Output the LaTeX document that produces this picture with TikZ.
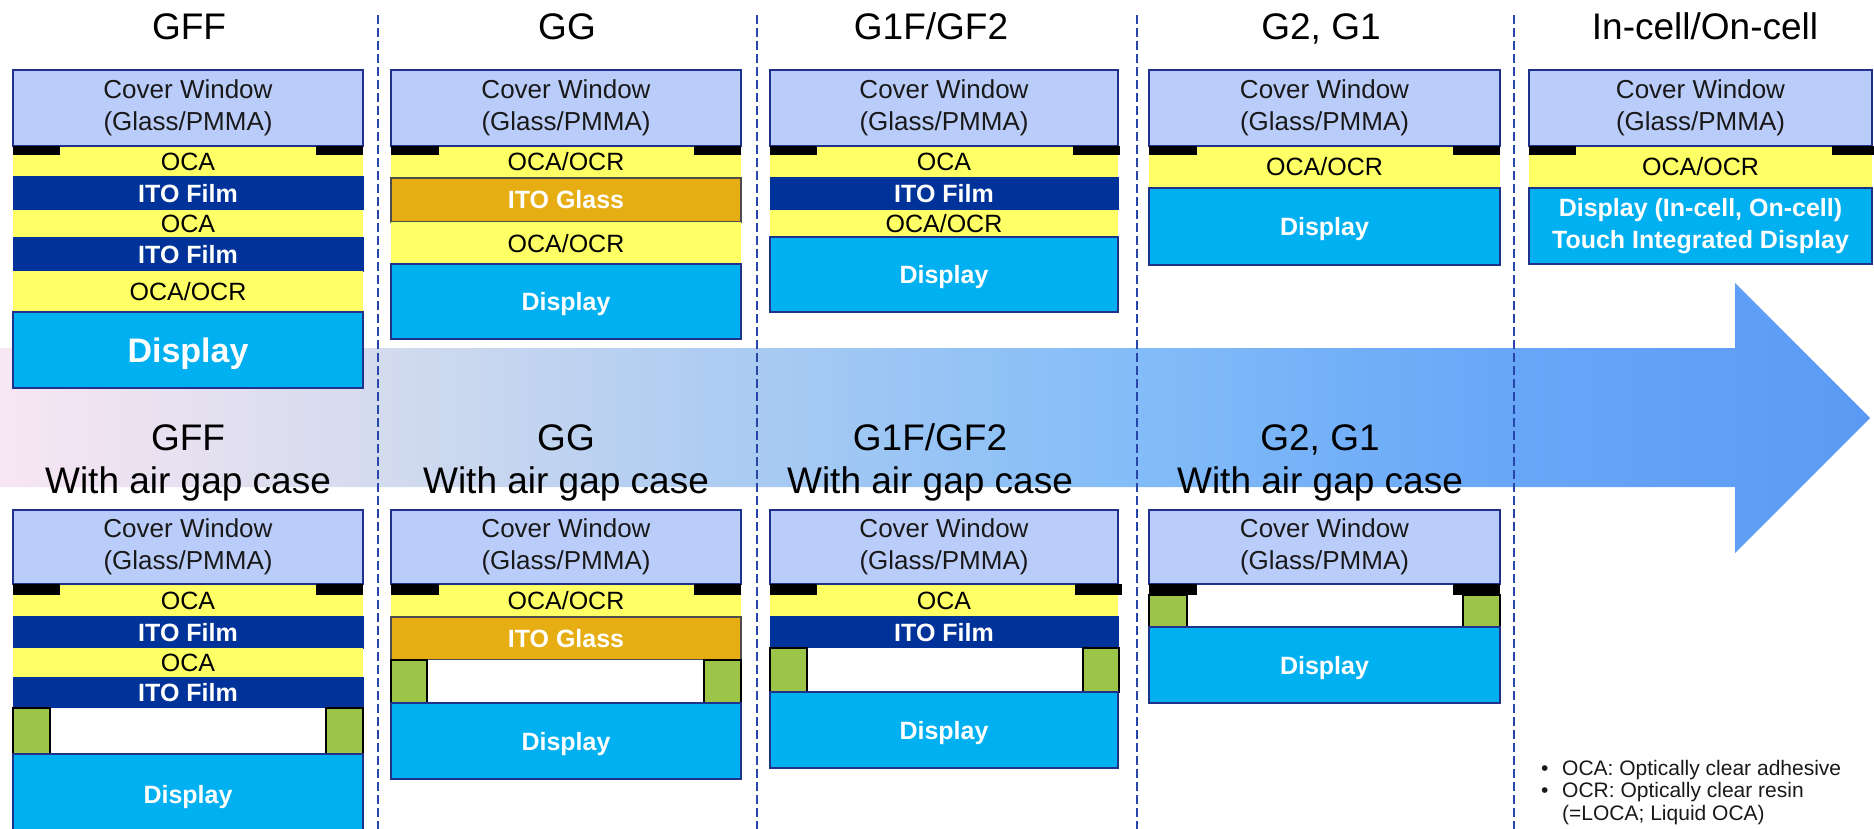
\documentclass[tikz,border=0pt]{standalone}
\usepackage{fontspec}
\setmainfont{Liberation Sans}
\definecolor{coverc}{RGB}{186,205,250}
\definecolor{ocac}{RGB}{255,255,102}
\definecolor{itofc}{RGB}{0,51,153}
\definecolor{itogc}{RGB}{230,174,18}
\definecolor{dispc}{RGB}{0,176,240}
\definecolor{spc}{RGB}{155,196,72}
\definecolor{edgec}{RGB}{30,50,140}
\definecolor{sepc}{RGB}{40,70,170}
\definecolor{txtc}{RGB}{25,25,25}
\definecolor{ar0}{RGB}{248,230,243}
\definecolor{ar1}{RGB}{212,219,238}
\definecolor{ar2}{RGB}{170,203,242}
\definecolor{ar3}{RGB}{132,189,248}
\definecolor{ar4}{RGB}{105,167,248}
\definecolor{ar5}{RGB}{90,154,244}
\pgfdeclarehorizontalshading{arrowshade}{100bp}{color(0bp)=(ar0); color(25bp)=(ar0); color(35bp)=(ar1); color(45bp)=(ar2); color(55bp)=(ar3); color(65bp)=(ar4); color(75bp)=(ar5); color(100bp)=(ar5)}
\newcommand\myfs[2]{\fontsize{#1}{#2}\selectfont}
% #1 name, #2 style, #3 x1, #4 y1, #5 x2, #6 y2, #7 text
\newcommand\lay[7]{%
  \pgfmathsetmacro\mylw{#5-#3}\pgfmathsetmacro\mylh{#6-#4}%
  \node[#2, anchor=north west, minimum width=\mylw pt, minimum height=\mylh pt, inner sep=0pt, outer sep=0pt] (#1) at (#3,#4) {#7};}
\tikzset{
  cover/.style={fill=coverc, draw=edgec, line width=1.3pt, text=txtc, align=center, font=\myfs{26}{32}},
  oca/.style={fill=ocac, text=black, font=\myfs{25}{30}, text height=18pt, text depth=0pt},
  itof/.style={fill=itofc, draw=itofc, line width=1pt, text=white, font=\myfs{25}{30}\bfseries, text height=18pt, text depth=0pt},
  itog/.style={fill=itogc, draw=black!70, line width=1.3pt, text=white, font=\myfs{25}{30}\bfseries, text height=18pt, text depth=0pt},
  disp/.style={fill=dispc, draw=edgec, line width=1.3pt, text=white, font=\myfs{25}{30}\bfseries, text height=18pt, text depth=0pt},
  dispbig/.style={disp, font=\myfs{34}{40}\bfseries, text height=24.5pt, text depth=0pt},
  disptwo/.style={fill=dispc, draw=edgec, line width=1.3pt, text=white, align=center, font=\myfs{25}{32}\bfseries},
  bar/.style={fill=black},
  spacer/.style={fill=spc, draw=black, line width=1.3pt},
  gap/.style={fill=white},
  ttl/.style={anchor=base, inner sep=0pt, text=black, font=\myfs{37}{43}},
  sep/.style={draw=sepc, line width=1.5pt, dash pattern=on 9pt off 4pt},
  legend/.style={anchor=north west, inner sep=0pt, align=left, text=txtc, font=\myfs{21}{22.5}}
}
\begin{document}
\begin{tikzpicture}[x=1pt, y=-1pt]
\useasboundingbox (0,0) rectangle (1874,829);
\clip (0,0) rectangle (1874,829);
% big arrow
\path[shading=arrowshade] (0,348) -- (1735,348) -- (1735,283) -- (1870,418) -- (1735,553) -- (1735,487) -- (0,487) -- cycle;
% separators
\coordinate (s1t) at (378,15); \coordinate (s1b) at (378,829);
\coordinate (s2t) at (757,15); \coordinate (s2b) at (757,829);
\coordinate (s3t) at (1137,15); \coordinate (s3b) at (1137,829);
\coordinate (s4t) at (1514,15); \coordinate (s4b) at (1514,829);
\draw[sep] (s1t) -- (s1b);
\draw[sep] (s2t) -- (s2b);
\draw[sep] (s3t) -- (s3b);
\draw[sep] (s4t) -- (s4b);
% titles top
\node[ttl] (t1) at (189,40) {GFF};
\node[ttl] (t2) at (567,40) {GG};
\node[ttl] (t3) at (931,40) {G1F/GF2};
\node[ttl] (t4) at (1321,40) {G2, G1};
\node[ttl] (t5) at (1705,40) {In-cell/On-cell};
% titles bottom
\node[ttl] (b1a) at (188,450) {GFF};
\node[ttl] (b1b) at (188,493) {With air gap case};
\node[ttl] (b2a) at (566,450) {GG};
\node[ttl] (b2b) at (566,493) {With air gap case};
\node[ttl] (b3a) at (930,450) {G1F/GF2};
\node[ttl] (b3b) at (930,493) {With air gap case};
\node[ttl] (b4a) at (1320,450) {G2, G1};
\node[ttl] (b4b) at (1320,493) {With air gap case};
% ---------- top row ----------
% GFF
\lay{a1}{oca}{13}{146}{363}{177}{OCA}
\lay{a2}{itof}{13}{177}{363}{210}{ITO Film}
\lay{a3}{oca}{13}{210}{363}{238}{OCA}
\lay{a4}{itof}{13}{238}{363}{271}{ITO Film}
\lay{a5}{oca}{13}{271}{363}{312}{OCA/OCR}
\lay{a6}{dispbig}{13}{312}{363}{388}{Display}
\lay{a0}{cover}{13}{70}{363}{146}{Cover Window\\(Glass/PMMA)}
\lay{ab1}{bar}{13}{146}{60}{155}{}
\lay{ab2}{bar}{316}{146}{363}{155}{}
% GG
\lay{g1}{oca}{391}{146}{741}{178}{OCA/OCR}
\lay{g2}{itog}{391}{178}{741}{222}{ITO Glass}
\lay{g3}{oca}{391}{222}{741}{264}{OCA/OCR}
\lay{g4}{disp}{391}{264}{741}{339}{Display}
\lay{g0}{cover}{391}{70}{741}{146}{Cover Window\\(Glass/PMMA)}
\lay{gb1}{bar}{391}{146}{439}{155}{}
\lay{gb2}{bar}{694}{146}{741}{155}{}
% G1F/GF2
\lay{f1}{oca}{770}{146}{1118}{178}{OCA}
\lay{f2}{itof}{770}{178}{1118}{210}{ITO Film}
\lay{f3}{oca}{770}{210}{1118}{237}{OCA/OCR}
\lay{f4}{disp}{770}{237}{1118}{312}{Display}
\lay{f0}{cover}{770}{70}{1118}{146}{Cover Window\\(Glass/PMMA)}
\lay{fb1}{bar}{770}{146}{817}{155}{}
\lay{fb2}{bar}{1073}{146}{1120}{155}{}
% G2, G1
\lay{h1}{oca}{1149}{146}{1500}{188}{OCA/OCR}
\lay{h2}{disp}{1149}{188}{1500}{265}{Display}
\lay{h0}{cover}{1149}{70}{1500}{146}{Cover Window\\(Glass/PMMA)}
\lay{hb1}{bar}{1149}{146}{1197}{155}{}
\lay{hb2}{bar}{1453}{146}{1500}{155}{}
% In-cell/On-cell
\lay{i1}{oca}{1529}{146}{1872}{188}{OCA/OCR}
\lay{i2}{disptwo}{1529}{188}{1872}{264}{Display (In-cell, On-cell)\\Touch Integrated Display}
\lay{i0}{cover}{1529}{70}{1872}{146}{Cover Window\\(Glass/PMMA)}
\lay{ib1}{bar}{1529}{146}{1576}{155}{}
\lay{ib2}{bar}{1832}{146}{1874}{155}{}
% ---------- bottom row ----------
% GFF air gap
\lay{p1}{oca}{13}{584}{363}{616}{OCA}
\lay{p2}{itof}{13}{616}{363}{648}{ITO Film}
\lay{p3}{oca}{13}{648}{363}{677}{OCA}
\lay{p4}{itof}{13}{677}{363}{708}{ITO Film}
\lay{p5}{gap}{13}{708}{363}{754}{}
\lay{ps1}{spacer}{13}{708}{50}{754}{}
\lay{ps2}{spacer}{326}{708}{363}{754}{}
\lay{p6}{disp}{13}{754}{363}{834}{Display}
\lay{p0}{cover}{13}{510}{363}{584}{Cover Window\\(Glass/PMMA)}
\lay{pb1}{bar}{13}{584}{60}{595}{}
\lay{pb2}{bar}{316}{584}{363}{595}{}
% GG air gap
\lay{q1}{oca}{391}{584}{741}{617}{OCA/OCR}
\lay{q2}{itog}{391}{617}{741}{660}{ITO Glass}
\lay{q3}{gap}{391}{660}{741}{703}{}
\lay{qs1}{spacer}{391}{660}{427}{703}{}
\lay{qs2}{spacer}{704}{660}{741}{703}{}
\lay{q4}{disp}{391}{703}{741}{779}{Display}
\lay{q0}{cover}{391}{510}{741}{584}{Cover Window\\(Glass/PMMA)}
\lay{qb1}{bar}{391}{584}{439}{595}{}
\lay{qb2}{bar}{694}{584}{741}{595}{}
% G1F/GF2 air gap
\lay{r1}{oca}{770}{584}{1118}{616}{OCA}
\lay{r2}{itof}{770}{616}{1118}{648}{ITO Film}
\lay{r3}{gap}{770}{648}{1118}{692}{}
\lay{rs1}{spacer}{770}{648}{807}{692}{}
\lay{rs2}{spacer}{1083}{648}{1119}{692}{}
\lay{r4}{disp}{770}{692}{1118}{768}{Display}
\lay{r0}{cover}{770}{510}{1118}{584}{Cover Window\\(Glass/PMMA)}
\lay{rb1}{bar}{770}{584}{817}{595}{}
\lay{rb2}{bar}{1075}{584}{1122}{595}{}
% G2, G1 air gap
\lay{u1}{gap}{1149}{584}{1500}{627}{}
\lay{us1}{spacer}{1149}{595}{1187}{627}{}
\lay{us2}{spacer}{1463}{595}{1500}{627}{}
\lay{u2}{disp}{1149}{627}{1500}{703}{Display}
\lay{u0}{cover}{1149}{510}{1500}{584}{Cover Window\\(Glass/PMMA)}
\lay{ub1}{bar}{1149}{584}{1197}{595}{}
\lay{ub2}{bar}{1453}{584}{1500}{595}{}
% legend
\node[legend] (leg) at (1541,760) {\makebox[21pt][l]{\textbullet}OCA: Optically clear adhesive\\
\makebox[21pt][l]{\textbullet}OCR: Optically clear resin\\
\makebox[21pt][l]{}(=LOCA; Liquid OCA)};
\end{tikzpicture}
\end{document}
